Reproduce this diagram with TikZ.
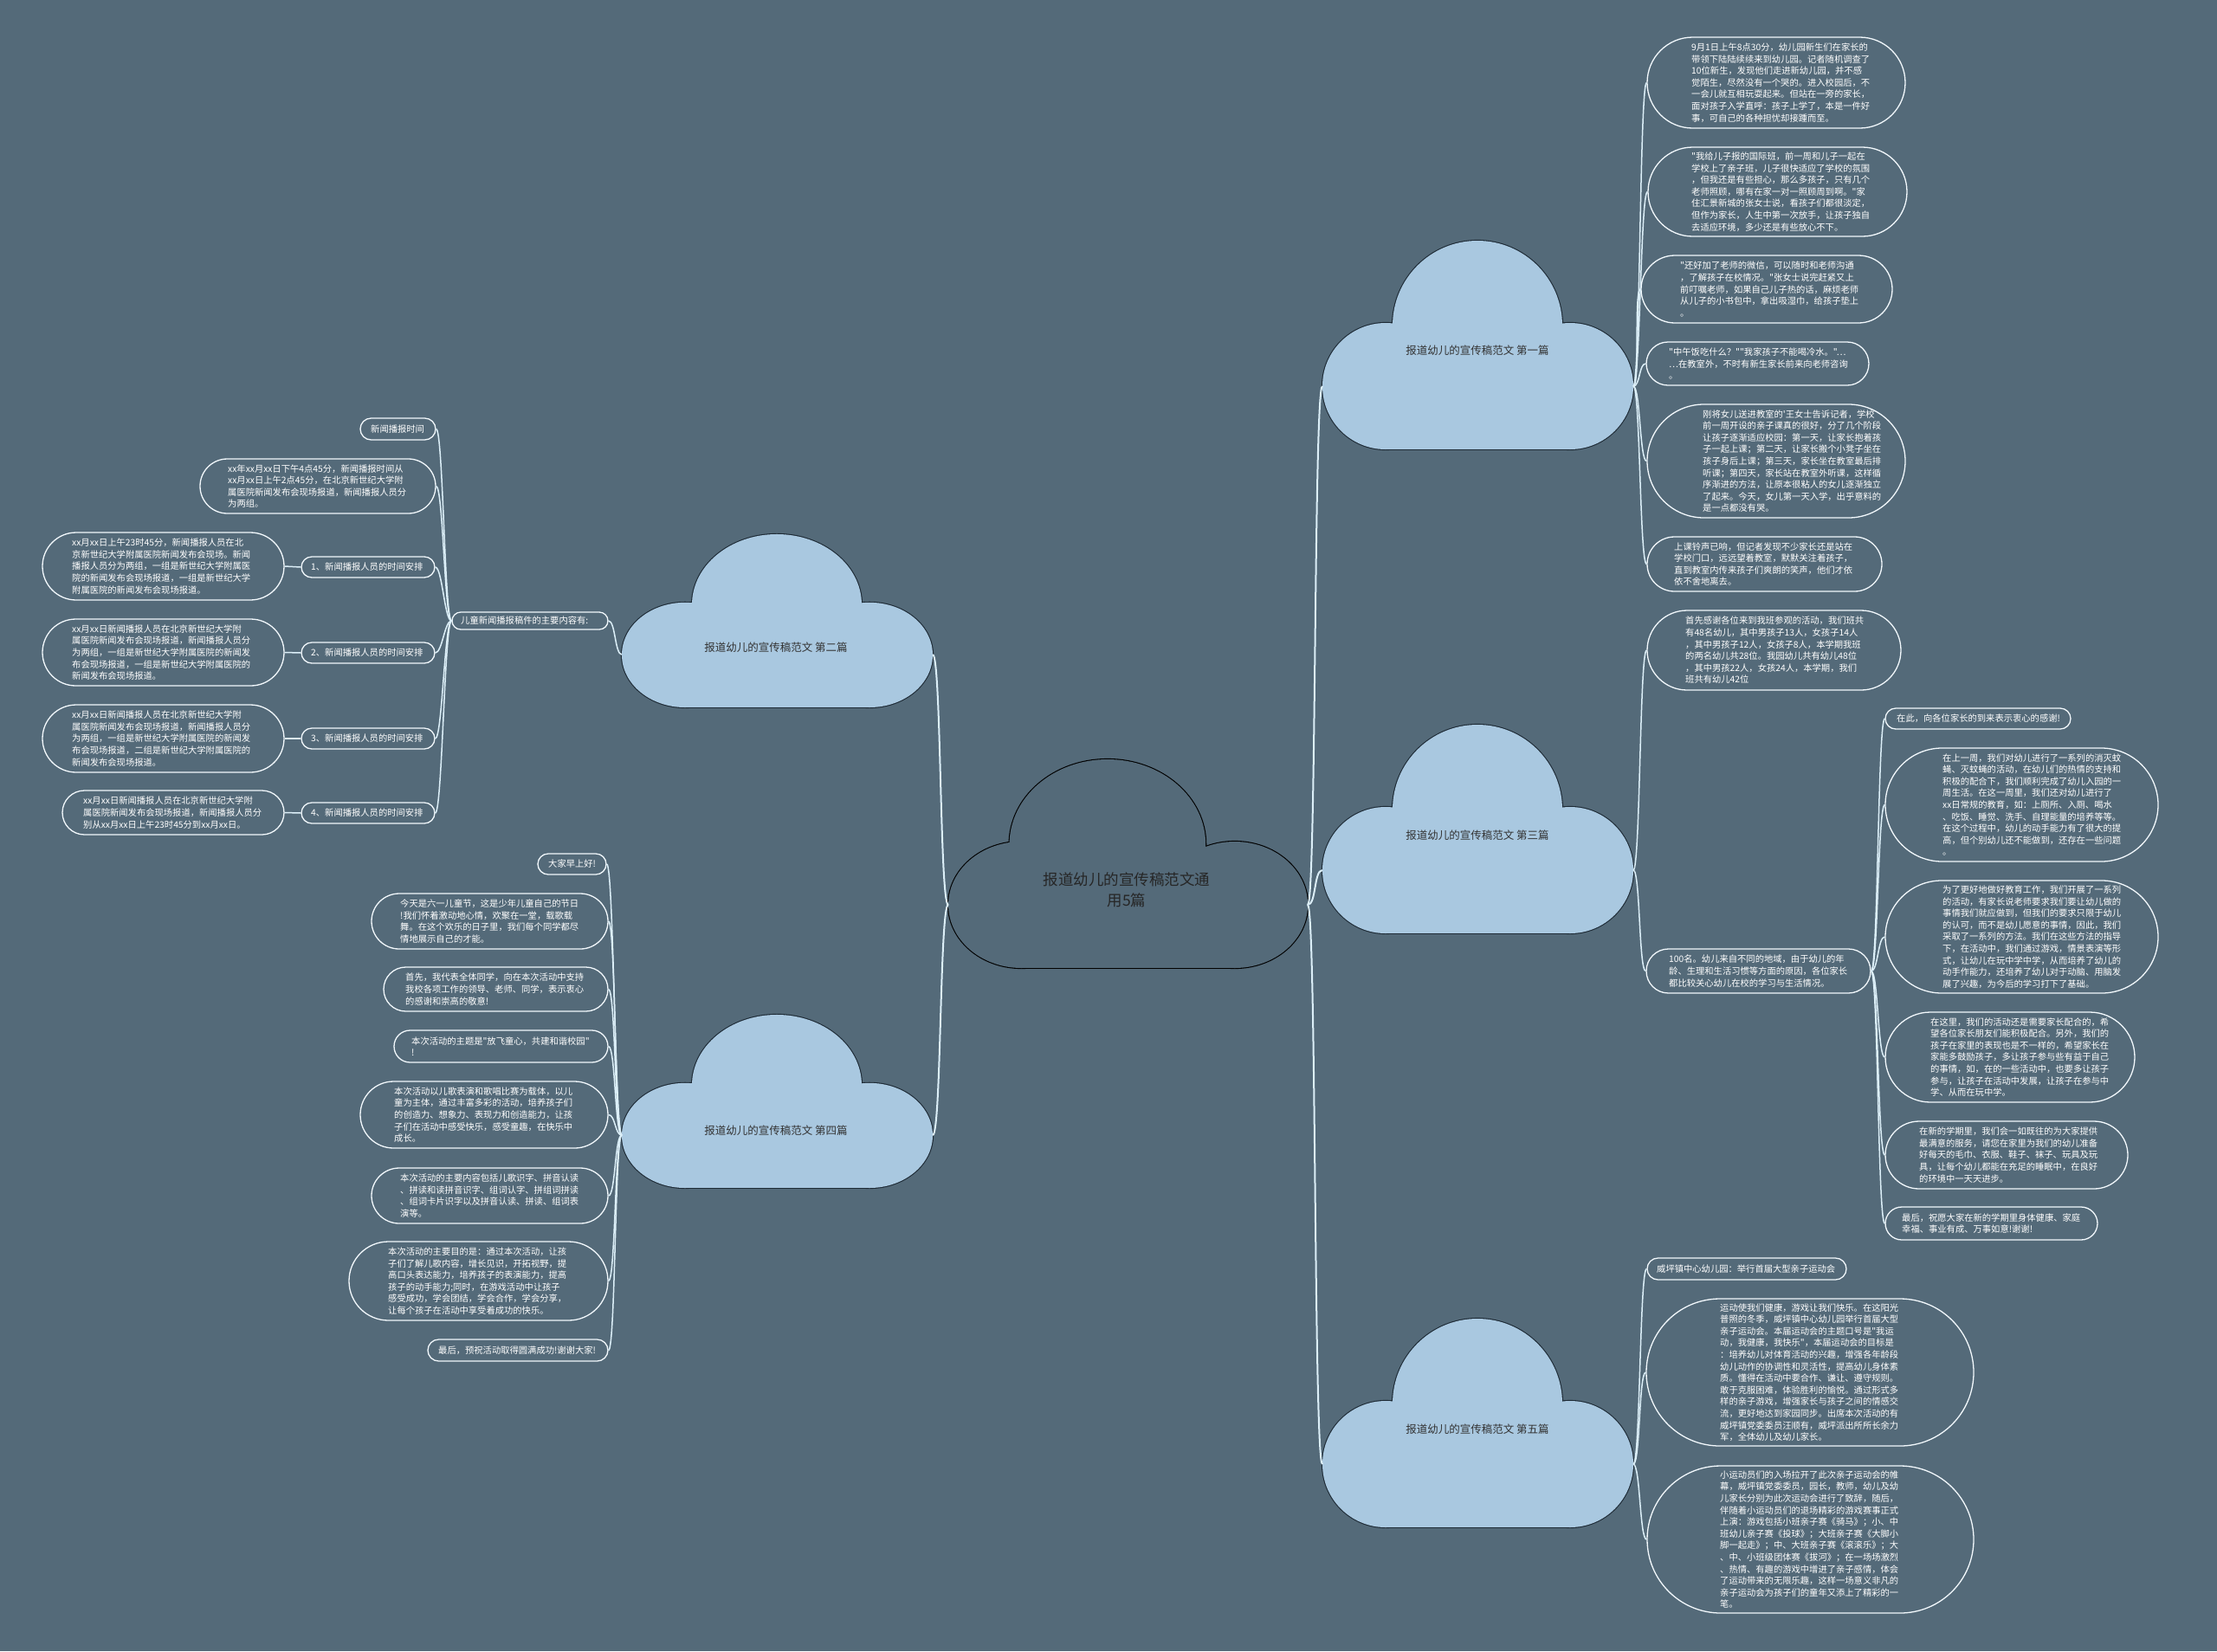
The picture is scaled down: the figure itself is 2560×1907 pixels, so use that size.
\documentclass[tikz,border=0pt]{standalone}
\usepackage{fontspec}
\newfontfamily\cjk{Noto Sans CJK SC}
\usetikzlibrary{shapes.misc}
\definecolor{bg}{HTML}{546A79}
\definecolor{cloudfill}{HTML}{A9C8E0}
\definecolor{cloudline}{HTML}{1E2B36}
\definecolor{connc}{HTML}{DCEFF8}
\definecolor{leafc}{HTML}{F2F8FC}
\tikzset{
 leafbox/.style={draw=leafc, line width=1.3pt, rounded rectangle, inner sep=0pt},
 leaftext/.style={font=\cjk\fontsize{10.3}{13.6}\selectfont, text=white, align=left, inner sep=0pt, anchor=west},
 link/.style={draw=connc, line width=1.5pt},
 mainlink/.style={draw=connc, line width=2pt},
 cloudlabel/.style={font=\cjk\fontsize{12.5}{15}\selectfont, text=black!80, inner sep=0pt},
 centerlabel/.style={font=\cjk\fontsize{17.5}{24}\selectfont, text=black!85, inner sep=0pt, align=center}
}
\newcommand\leaf[7]{%
 \pgfmathsetmacro\lw{#4-#2}\pgfmathsetmacro\lh{#5-#3}%
 \pgfmathsetmacro\lx{(#2+#4)/2}\pgfmathsetmacro\ly{(#3+#5)/2}%
 \node[leafbox, minimum width=\lw pt, minimum height=\lh pt] (#1) at (\lx,\ly) {};
 \node[leaftext] (#1t) at (#6,\ly) {#7};
}
% bottom-centre x, y, xscale, yscale, fill, stroke, dome x-offset
\newcommand\cloudshape[7]{%
 \begin{scope}[shift={(#1,#2)}, xscale=#3, yscale=#4]
  \draw[draw=#6, line width=2.2pt] (-106,-73) circle (73);
  \draw[draw=#6, line width=2.2pt] (#7,-143) circle (98);
  \draw[draw=#6, line width=2.2pt] (107,-73) circle (73);
  \draw[draw=#6, line width=2.2pt] (-106,0) rectangle (107,-73);
  \fill[#5] (-106,-73) circle (73);
  \fill[#5] (#7,-143) circle (98);
  \fill[#5] (107,-73) circle (73);
  \fill[#5] (-106,0) rectangle (107,-73);
 \end{scope}}
\begin{document}
\begin{tikzpicture}[x=1pt,y=-1pt]
\fill[bg] (0,0) rectangle (2560,1907);
\useasboundingbox (0,0) rectangle (2560,1907);

% clouds
\cloudshape{1302}{1118}{1.156}{1}{bg}{black}{-20}
\cloudshape{1706}{519}{1}{1}{cloudfill}{cloudline}{0}
\cloudshape{1706}{1078}{1}{1}{cloudfill}{cloudline}{0}
\cloudshape{1706}{1764}{1}{1}{cloudfill}{cloudline}{0}
\cloudshape{897}{817}{1}{0.83}{cloudfill}{cloudline}{0}
\cloudshape{897}{1372}{1}{0.83}{cloudfill}{cloudline}{0}

\node[centerlabel] (c0) at (1301,1028) {报道幼儿的宣传稿范文通\\用5篇};
\node[cloudlabel] (c1) at (1706,405) {报道幼儿的宣传稿范文 第一篇};
\node[cloudlabel] (c3) at (1706,965) {报道幼儿的宣传稿范文 第三篇};
\node[cloudlabel] (c5) at (1706,1651) {报道幼儿的宣传稿范文 第五篇};
\node[cloudlabel] (c2) at (896,748) {报道幼儿的宣传稿范文 第二篇};
\node[cloudlabel] (c4) at (896,1306) {报道幼儿的宣传稿范文 第四篇};

\coordinate (c0e) at (1510,1045);
\coordinate (c0w) at (1095,1045);
\coordinate (c1w) at (1527,446);
\coordinate (c1e) at (1886,446);
\coordinate (c3w) at (1527,1005);
\coordinate (c3e) at (1886,1005);
\coordinate (c5w) at (1527,1691);
\coordinate (c5e) at (1886,1691);
\coordinate (c2e) at (1077,756);
\coordinate (c2w) at (718,756);
\coordinate (c4e) at (1077,1311);
\coordinate (c4w) at (718,1311);

% ---- leaves of part 1
\leaf{a1}{1902}{43}{2200}{148}{1953}{9月1日上午8点30分，幼儿园新生们在家长的\\带领下陆陆续续来到幼儿园。记者随机调查了\\10位新生，发现他们走进新幼儿园，并不感\\觉陌生，尽然没有一个哭的。进入校园后，不\\一会儿就互相玩耍起来。但站在一旁的家长，\\面对孩子入学直呼：孩子上学了，本是一件好\\事，可自己的各种担忧却接踵而至。}
\leaf{a2}{1903}{170}{2202}{273}{1953}{"我给儿子报的国际班，前一周和儿子一起在\\学校上了亲子班，儿子很快适应了学校的氛围\\，但我还是有些担心，那么多孩子，只有几个\\老师照顾，哪有在家一对一照顾周到啊。"家\\住汇景新城的张女士说，看孩子们都很淡定，\\但作为家长，人生中第一次放手，让孩子独自\\去适应环境，多少还是有些放心不下。}
\leaf{a3}{1895}{295}{2185}{373}{1940}{"还好加了老师的微信，可以随时和老师沟通\\，了解孩子在校情况。"张女士说完赶紧又上\\前叮嘱老师，如果自己儿子热的话，麻烦老师\\从儿子的小书包中，拿出吸湿巾，给孩子垫上\\。}
\leaf{a4}{1901}{395}{2158}{445}{1927}{"中午饭吃什么？""我家孩子不能喝冷水。"…\\…在教室外，不时有新生家长前来向老师咨询\\。}
\leaf{a5}{1902}{467}{2200}{598}{1966}{刚将女儿送进教室的'王女士告诉记者，学校\\前一周开设的亲子课真的很好，分了几个阶段\\让孩子逐渐适应校园：第一天，让家长抱着孩\\子一起上课；第二天，让家长搬个小凳子坐在\\孩子身后上课；第三天，家长坐在教室最后排\\听课；第四天，家长站在教室外听课，这样循\\序渐进的方法，让原本很粘人的女儿逐渐独立\\了起来。今天，女儿第一天入学，出乎意料的\\是一点都没有哭。}
\leaf{a6}{1902}{620}{2173}{683}{1933}{上课铃声已响，但记者发现不少家长还是站在\\学校门口，远远望着教室，默默关注着孩子，\\直到教室内传来孩子们爽朗的笑声，他们才依\\依不舍地离去。}

% ---- leaves of part 3
\leaf{b1}{1902}{705}{2195}{797}{1946}{首先感谢各位来到我班参观的活动，我们班共\\有48名幼儿，其中男孩子13人，女孩子14人\\，其中男孩子12人，女孩子8人，本学期我班\\的两名幼儿共28位。我园幼儿共有幼儿48位\\，其中男孩22人，女孩24人，本学期，我们\\班共有幼儿42位}
\leaf{b2}{1901}{1096}{2160}{1147}{1927}{100名。幼儿来自不同的地域，由于幼儿的年\\龄、生理和生活习惯等方面的原因，各位家长\\都比较关心幼儿在校的学习与生活情况。}
\leaf{s1}{2177}{818}{2391}{842}{2190}{在此，向各位家长的到来表示衷心的感谢!}
\leaf{s2}{2177}{864}{2492}{995}{2243}{在上一周，我们对幼儿进行了一系列的消灭蚊\\蝇、灭蚊蝇的活动，在幼儿们的热情的支持和\\积极的配合下，我们顺利完成了幼儿入园的一\\周生活。在这一周里，我们还对幼儿进行了\\xx日常规的教育，如：上厕所、入厕、喝水\\、吃饭、睡觉、洗手、自理能量的培养等等。\\在这个过程中，幼儿的动手能力有了很大的提\\高，但个别幼儿还不能做到，还存在一些问题\\。}
\leaf{s3}{2177}{1017}{2492}{1147}{2243}{为了更好地做好教育工作，我们开展了一系列\\的活动，有家长说老师要求我们要让幼儿做的\\事情我们就应做到，但我们的要求只限于幼儿\\的认可，而不是幼儿愿意的事情，因此，我们\\采取了一系列的方法。我们在这些方法的指导\\下，在活动中，我们通过游戏，情景表演等形\\式，让幼儿在玩中学中学，从而培养了幼儿的\\动手作能力，还培养了幼儿对于动脑、用脑发\\展了兴趣，为今后的学习打下了基础。}
\leaf{s4}{2177}{1169}{2465}{1273}{2229}{在这里，我们的活动还是需要家长配合的，希\\望各位家长朋友们能积极配合。另外，我们的\\孩子在家里的表现也是不一样的，希望家长在\\家能多鼓励孩子，多让孩子参与些有益于自己\\的事情，如，在的一些活动中，也要多让孩子\\参与，让孩子在活动中发展，让孩子在参与中\\学、从而在玩中学。}
\leaf{s5}{2177}{1295}{2457}{1373}{2216}{在新的学期里，我们会一如既往的为大家提供\\最满意的服务，请您在家里为我们的幼儿准备\\好每天的毛巾、衣服、鞋子、袜子、玩具及玩\\具，让每个幼儿都能在充足的睡眠中，在良好\\的环境中一天天进步。}
\leaf{s6}{2177}{1394}{2422}{1432}{2196}{最后，祝愿大家在新的学期里身体健康、家庭\\幸福、事业有成、万事如意!谢谢!}

% ---- leaves of part 5
\leaf{e1}{1902}{1453}{2132}{1478}{1913}{威坪镇中心幼儿园：举行首届大型亲子运动会}
\leaf{e2}{1901}{1500}{2279}{1670}{1986}{运动使我们健康，游戏让我们快乐。在这阳光\\普照的冬季，威坪镇中心幼儿园举行首届大型\\亲子运动会。本届运动会的主题口号是"我运\\动，我健康，我快乐"，本届运动会的目标是\\：培养幼儿对体育活动的兴趣，增强各年龄段\\幼儿动作的协调性和灵活性，提高幼儿身体素\\质。懂得在活动中要合作、谦让、遵守规则。\\敢于克服困难，体验胜利的愉悦。通过形式多\\样的亲子游戏，增强家长与孩子之间的情感交\\流，更好地达到家园同步。出席本次活动的有\\威坪镇党委委员汪顺有，威坪派出所所长余力\\军，全体幼儿及幼儿家长。}
\leaf{e3}{1902}{1693}{2279}{1863}{1986}{小运动员们的入场拉开了此次亲子运动会的帷\\幕，威坪镇党委委员，园长，教师，幼儿及幼\\儿家长分别为此次运动会进行了致辞，随后，\\伴随着小运动员们的退场精彩的游戏赛事正式\\上演：游戏包括小班亲子赛《骑马》；小、中\\班幼儿亲子赛《投球》；大班亲子赛《大脚小\\脚一起走》；中、大班亲子赛《滚滚乐》；大\\、中、小班级团体赛《拔河》；在一场场激烈\\、热情、有趣的游戏中增进了亲子感情，体会\\了运动带来的无限乐趣，这样一场意义非凡的\\亲子运动会为孩子们的童年又添上了精彩的一\\笔。}

% ---- leaves of part 2
\leaf{h}{522}{707}{702}{727}{532}{儿童新闻播报稿件的主要内容有:}
\leaf{n1}{416}{483}{503}{508}{428}{新闻播报时间}
\leaf{n2}{231}{530}{503}{593}{263}{xx年xx月xx日下午4点45分，新闻播报时间从\\xx月xx日上午2点45分，在北京新世纪大学附\\属医院新闻发布会现场报道，新闻播报人员分\\为两组。}
\leaf{n3}{348}{643}{502}{667}{359}{1、新闻播报人员的时间安排}
\leaf{n3c}{49}{615}{328}{693}{83}{xx月xx日上午23时45分，新闻播报人员在北\\京新世纪大学附属医院新闻发布会现场。新闻\\播报人员分为两组，一组是新世纪大学附属医\\院的新闻发布会现场报道，一组是新世纪大学\\附属医院的新闻发布会现场报道。}
\leaf{n4}{348}{742}{502}{766}{359}{2、新闻播报人员的时间安排}
\leaf{n4c}{49}{715}{328}{792}{83}{xx月xx日新闻播报人员在北京新世纪大学附\\属医院新闻发布会现场报道，新闻播报人员分\\为两组，一组是新世纪大学附属医院的新闻发\\布会现场报道，一组是新世纪大学附属医院的\\新闻发布会现场报道。}
\leaf{n5}{348}{841}{502}{865}{359}{3、新闻播报人员的时间安排}
\leaf{n5c}{49}{814}{328}{892}{83}{xx月xx日新闻播报人员在北京新世纪大学附\\属医院新闻发布会现场报道，新闻播报人员分\\为两组，一组是新世纪大学附属医院的新闻发\\布会现场报道，二组是新世纪大学附属医院的\\新闻发布会现场报道。}
\leaf{n6}{348}{927}{502}{951}{359}{4、新闻播报人员的时间安排}
\leaf{n6c}{72}{913}{328}{964}{96}{xx月xx日新闻播报人员在北京新世纪大学附\\属医院新闻发布会现场报道，新闻播报人员分\\别从xx月xx日上午23时45分到xx月xx日。}

% ---- leaves of part 4
\leaf{m1}{621}{986}{700}{1010}{633}{大家早上好!}
\leaf{m2}{429}{1032}{702}{1096}{462}{今天是六一儿童节，这是少年儿童自己的节日\\!我们怀着激动地心情，欢聚在一堂，载歌载\\舞。在这个欢乐的日子里，我们每个同学都尽\\情地展示自己的才能。}
\leaf{m3}{443}{1117}{702}{1168}{468}{首先，我代表全体同学，向在本次活动中支持\\我校各项工作的领导、老师、同学，表示衷心\\的感谢和崇高的敬意!}
\leaf{m4}{455}{1190}{702}{1227}{475}{本次活动的主题是"放飞童心，共建和谐校园"\\!}
\leaf{m5}{416}{1249}{702}{1326}{455}{本次活动以儿歌表演和歌唱比赛为载体，以儿\\童为主体，通过丰富多彩的活动，培养孩子们\\的创造力、想象力、表现力和创造能力，让孩\\子们在活动中感受快乐，感受童趣，在快乐中\\成长。}
\leaf{m6}{429}{1349}{702}{1413}{462}{本次活动的主要内容包括儿歌识字、拼音认读\\、拼读和读拼音识字、组词认字、拼组词拼读\\、组词卡片识字以及拼音认读、拼读、组词表\\演等。}
\leaf{m7}{403}{1434}{702}{1525}{448}{本次活动的主要目的是：通过本次活动，让孩\\子们了解儿歌内容，增长见识，开拓视野，提\\高口头表达能力，培养孩子的表演能力，提高\\孩子的动手能力;同时，在游戏活动中让孩子\\感受成功，学会团结，学会合作，学会分享，\\让每个孩子在活动中享受着成功的快乐。}
\leaf{m8}{494}{1547}{702}{1572}{506}{最后，预祝活动取得圆满成功!谢谢大家!}

% ---- connectors
\foreach \t in {c1w,c3w,c5w}
  \draw[mainlink] (c0e) .. controls +(10,0) and +(-10,0) .. (\t);
\foreach \t in {c2e,c4e}
  \draw[mainlink] (c0w) .. controls +(-10,0) and +(10,0) .. (\t);
\foreach \t in {a1,a2,a3,a4,a5,a6}
  \draw[link] (c1e) .. controls +(8,0) and +(-8,0) .. (\t.west);
\foreach \t in {b1,b2}
  \draw[link] (c3e) .. controls +(8,0) and +(-8,0) .. (\t.west);
\foreach \t in {s1,s2,s3,s4,s5,s6}
  \draw[link] (b2.east) .. controls +(8,0) and +(-8,0) .. (\t.west);
\foreach \t in {e1,e2,e3}
  \draw[link] (c5e) .. controls +(8,0) and +(-8,0) .. (\t.west);
\draw[link] (c2w) .. controls +(-8,0) and +(8,0) .. (h.east);
\foreach \t in {n1,n2,n3,n4,n5,n6}
  \draw[link] (h.west) .. controls +(-8,0) and +(8,0) .. (\t.east);
\foreach \p/\c in {n3/n3c,n4/n4c,n5/n5c,n6/n6c}
  \draw[link] (\p.west) -- (\c.east);
\foreach \t in {m1,m2,m3,m4,m5,m6,m7,m8}
  \draw[link] (c4w) .. controls +(-8,0) and +(8,0) .. (\t.east);
\end{tikzpicture}
\end{document}
